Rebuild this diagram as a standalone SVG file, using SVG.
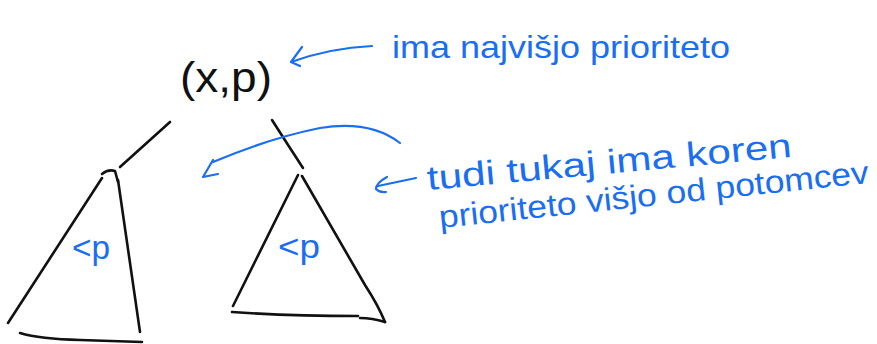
<svg xmlns="http://www.w3.org/2000/svg" width="877" height="344" viewBox="0 0 877 344">
<style>
.ink{fill:none;stroke:#111;stroke-width:2.6;stroke-linecap:round;stroke-linejoin:round}
.blue{fill:none;stroke:#1a6ef2;stroke-width:2.2;stroke-linecap:round;stroke-linejoin:round}
.bt{fill:#1a6ef2;font-family:"Liberation Sans","DejaVu Sans",sans-serif;font-size:32px}
.kt{fill:#111;font-family:"Liberation Sans","DejaVu Sans",sans-serif;font-size:42px}
</style>
<rect width="877" height="344" fill="#fff"/>
<g id="root">
<text class="kt" x="180" y="92" textLength="92" lengthAdjust="spacingAndGlyphs">(x,p)</text>
</g>
<g id="left-subtree">
<path class="ink" d="M102,178 L8,323"/>
<path class="ink" d="M102,174 Q108,169 115,171 L118,182"/>
<path class="ink" d="M118,180 L140,332"/>
<path class="ink" d="M20,333 Q40,339 80,340 L142,342"/>
<text class="bt" x="72" y="259" style="font-size:34px" textLength="38" lengthAdjust="spacingAndGlyphs">&lt;p</text>
</g>
<g id="right-subtree">
<path class="ink" d="M298,175 L233,306"/>
<path class="ink" d="M302,176 Q345,250 365,285 Q378,305 385,322"/>
<path class="ink" d="M232,312 Q290,316 358,316"/>
<path class="ink" d="M360,318 Q372,318 385,322"/>
<text class="bt" x="278" y="258" style="font-size:34px" textLength="42" lengthAdjust="spacingAndGlyphs">&lt;p</text>
</g>
<g id="connectors">
<path class="ink" d="M170,122 L120,167"/>
<path class="ink" d="M272,120 Q288,145 303,168"/>
<path class="blue" d="M372,46 Q330,48 291,62"/>
<path class="blue" d="M302,47 L291,62 L300,66"/>
<path class="blue" d="M400,143 Q370,120 320,128 Q270,138 213,162"/>
<path class="blue" d="M213,160 L203,177 L218,174"/>
<path class="blue" d="M416,178 L378,186"/>
<path class="blue" d="M387,177 Q376,183 376,189 Q380,193 386,192"/>
</g>
<g id="note-top">
<text class="bt" x="392" y="58" textLength="338" lengthAdjust="spacingAndGlyphs">ima najvišjo prioriteto</text>
</g>
<g id="note-bottom">
<text class="bt" transform="translate(428,190) rotate(-5.2)" x="0" y="0" style="font-size:34px" textLength="366" lengthAdjust="spacingAndGlyphs">tudi tukaj ima koren</text>
<text class="bt" transform="translate(440,228) rotate(-6)" x="0" y="0" textLength="432" lengthAdjust="spacingAndGlyphs">prioriteto višjo od potomcev</text>
</g>
</svg>
